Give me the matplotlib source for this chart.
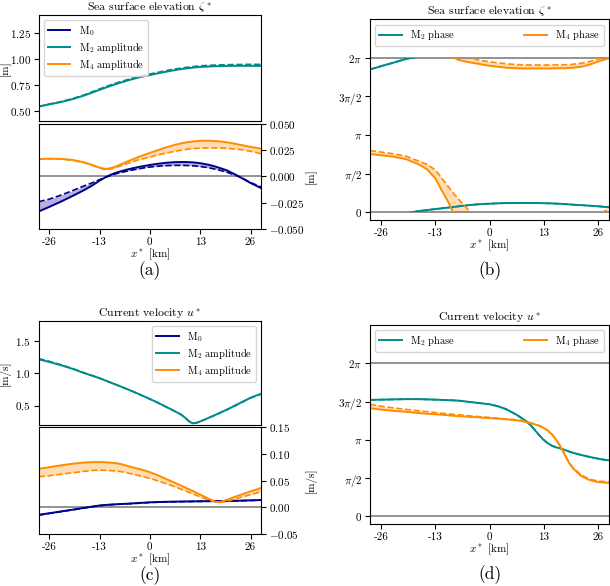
import numpy as np
import matplotlib.pyplot as plt
from matplotlib.lines import Line2D
from matplotlib.patches import Rectangle

plt.rcParams['font.family'] = 'cmr10'
plt.rcParams['mathtext.fontset'] = 'cm'
plt.rcParams['axes.formatter.use_mathtext'] = True
plt.rcParams['font.size'] = 8
plt.rcParams['xtick.major.pad'] = 2.5
plt.rcParams['ytick.major.pad'] = 2

# along-channel position [km]
x = [-28.7, -26, -23, -20, -17, -15, -13, -11.5, -10, -8.8, -7.5, -6, -4.5, -3, -1.5,
     0, 2, 4, 6.5, 8, 9, 10, 11, 12, 13, 14, 15, 16, 17, 18, 19, 20, 22, 24, 26, 27.3, 28.7]

# (a) sea surface elevation, amplitudes [m]
zeta_m2 = [0.538, 0.560, 0.582, 0.610, 0.645, 0.672, 0.700, 0.720, 0.740, 0.755, 0.770, 0.787, 0.803, 0.818, 0.830,
           0.842, 0.858, 0.873, 0.890, 0.899, 0.904, 0.909, 0.913, 0.917, 0.920, 0.922, 0.924, 0.926, 0.927, 0.928, 0.929,
           0.930, 0.931, 0.931, 0.931, 0.930, 0.930]
zeta_m2_ref = [0.540, 0.563, 0.586, 0.615, 0.651, 0.679, 0.708, 0.729, 0.749, 0.764, 0.779, 0.796, 0.812, 0.827, 0.840,
               0.852, 0.868, 0.883, 0.900, 0.909, 0.914, 0.919, 0.923, 0.927, 0.930, 0.933, 0.935, 0.937, 0.938, 0.940, 0.941,
               0.942, 0.943, 0.944, 0.945, 0.945, 0.945]
zeta_m4 = [0.0165, 0.0170, 0.0168, 0.0158, 0.0135, 0.0112, 0.0085, 0.0072, 0.0080, 0.0095, 0.0115, 0.0140, 0.0162, 0.0185, 0.0205,
           0.0225, 0.0250, 0.0275, 0.0302, 0.0315, 0.0322, 0.0328, 0.0333, 0.0337, 0.0340, 0.0341, 0.0341, 0.0340, 0.0337, 0.0334, 0.0330,
           0.0325, 0.0312, 0.0297, 0.0282, 0.0274, 0.0266]
zeta_m4_ref = [0.0165, 0.0168, 0.0165, 0.0155, 0.0132, 0.0108, 0.0080, 0.0066, 0.0072, 0.0085, 0.0102, 0.0122, 0.0140, 0.0158, 0.0172,
               0.0186, 0.0205, 0.0222, 0.0240, 0.0250, 0.0256, 0.0261, 0.0265, 0.0268, 0.0270, 0.0271, 0.0272, 0.0272, 0.0272, 0.0271, 0.0270,
               0.0268, 0.0262, 0.0254, 0.0240, 0.0230, 0.0216]
zeta_m0 = [-0.0333, -0.0290, -0.0240, -0.0186, -0.0130, -0.0088, -0.0040, -0.0008, 0.0018, 0.0035, 0.0050, 0.0065, 0.0078, 0.0090, 0.0100,
           0.0110, 0.0121, 0.0130, 0.0137, 0.0138, 0.0138, 0.0137, 0.0135, 0.0131, 0.0127, 0.0120, 0.0113, 0.0104, 0.0094, 0.0082, 0.0070,
           0.0057, 0.0020, -0.0020, -0.0062, -0.0085, -0.0110]
zeta_m0_ref = [-0.0240, -0.0216, -0.0178, -0.0135, -0.0090, -0.0062, -0.0030, -0.0008, 0.0012, 0.0026, 0.0038, 0.0050, 0.0062, 0.0072, 0.0082,
               0.0090, 0.0098, 0.0103, 0.0106, 0.0106, 0.0105, 0.0104, 0.0102, 0.0099, 0.0095, 0.0090, 0.0084, 0.0077, 0.0069, 0.0060, 0.0050,
               0.0039, 0.0014, -0.0018, -0.0057, -0.0078, -0.0100]

# (b) sea surface elevation, phases [rad] (unwrapped)
zeta_m2_ph = [-0.47, -0.335, -0.19, -0.04, 0.05, 0.09, 0.13, 0.16, 0.19, 0.21, 0.24, 0.27, 0.30, 0.32, 0.34,
              0.35, 0.365, 0.375, 0.38, 0.38, 0.38, 0.378, 0.376, 0.374, 0.37, 0.365, 0.36, 0.352, 0.345, 0.335, 0.322,
              0.31, 0.29, 0.268, 0.245, 0.225, 0.20]
zeta_m4_ph = [2.37, 2.32, 2.26, 2.16, 1.95, 1.75, 1.38, 0.90, 0.45, 0.03, -0.08, -0.14, -0.19, -0.23, -0.28,
              -0.32, -0.36, -0.40, -0.42, -0.43, -0.43, -0.43, -0.43, -0.43, -0.43, -0.43, -0.43, -0.42, -0.42, -0.42, -0.41,
              -0.40, -0.36, -0.28, -0.15, -0.08, -0.02]
zeta_m4_ph_ref = [2.51, 2.45, 2.38, 2.28, 2.08, 1.95, 1.72, 1.40, 1.07, 0.80, 0.55, 0.26, 0.00, -0.07, -0.12,
                  -0.16, -0.20, -0.24, -0.27, -0.28, -0.285, -0.29, -0.29, -0.29, -0.29, -0.29, -0.29, -0.285, -0.28, -0.28, -0.27,
                  -0.26, -0.22, -0.15, -0.05, 0.02, 0.12]

# (c) current velocity, amplitudes [m/s]
u_m2 = [1.210, 1.170, 1.120, 1.065, 1.000, 0.960, 0.920, 0.885, 0.850, 0.822, 0.792, 0.755, 0.718, 0.680, 0.640,
        0.600, 0.545, 0.485, 0.410, 0.362, 0.318, 0.262, 0.225, 0.232, 0.255, 0.280, 0.306, 0.332, 0.358, 0.385, 0.412,
        0.440, 0.500, 0.560, 0.620, 0.650, 0.680]
u_m2_ref = [1.222, 1.180, 1.128, 1.070, 1.004, 0.963, 0.922, 0.886, 0.850, 0.822, 0.792, 0.755, 0.718, 0.680, 0.640,
            0.600, 0.545, 0.485, 0.410, 0.362, 0.318, 0.262, 0.227, 0.234, 0.255, 0.279, 0.304, 0.330, 0.356, 0.383, 0.410,
            0.437, 0.496, 0.555, 0.614, 0.644, 0.673]
u_m4 = [0.0720, 0.0750, 0.0785, 0.0815, 0.0838, 0.0845, 0.0847, 0.0843, 0.0835, 0.0825, 0.0810, 0.0778, 0.0750, 0.0720, 0.0690,
        0.0657, 0.0600, 0.0535, 0.0455, 0.0405, 0.0372, 0.0340, 0.0305, 0.0270, 0.0235, 0.0200, 0.0165, 0.0130, 0.0100, 0.0095, 0.0116,
        0.0140, 0.0195, 0.0245, 0.0296, 0.0325, 0.0360]
u_m4_ref = [0.0570, 0.0590, 0.0618, 0.0645, 0.0672, 0.0688, 0.0695, 0.0692, 0.0686, 0.0678, 0.0668, 0.0645, 0.0620, 0.0595, 0.0568,
            0.0540, 0.0495, 0.0445, 0.0380, 0.0338, 0.0310, 0.0282, 0.0252, 0.0222, 0.0192, 0.0165, 0.0138, 0.0112, 0.0093, 0.0088, 0.0097,
            0.0112, 0.0155, 0.0195, 0.0233, 0.0260, 0.0290]
u_m0 = [-0.0146, -0.0116, -0.0082, -0.0049, -0.0015, 0.0008, 0.0030, 0.0040, 0.0048, 0.0053, 0.0058, 0.0063, 0.0070, 0.0076, 0.0083,
        0.0090, 0.0095, 0.0099, 0.0103, 0.0105, 0.0106, 0.0107, 0.0108, 0.0109, 0.0110, 0.0111, 0.0112, 0.0112, 0.0113, 0.0114, 0.0114,
        0.0115, 0.0119, 0.0123, 0.0127, 0.0130, 0.0133]
u_m0_ref = [-0.0150, -0.0120, -0.0086, -0.0052, -0.0018, 0.0005, 0.0027, 0.0037, 0.0045, 0.0050, 0.0055, 0.0060, 0.0067, 0.0073, 0.0080,
            0.0087, 0.0092, 0.0096, 0.0100, 0.0102, 0.0103, 0.0104, 0.0105, 0.0106, 0.0107, 0.0108, 0.0109, 0.0109, 0.0110, 0.0111, 0.0111,
            0.0112, 0.0116, 0.0120, 0.0124, 0.0127, 0.0130]

# (d) current velocity, phases [rad]
u_m2_ph = [4.78, 4.79, 4.80, 4.81, 4.81, 4.80, 4.79, 4.78, 4.77, 4.76, 4.75, 4.72, 4.69, 4.66, 4.63,
           4.60, 4.52, 4.40, 4.17, 4.00, 3.88, 3.72, 3.52, 3.32, 3.14, 3.00, 2.90, 2.83, 2.79, 2.73, 2.67,
           2.61, 2.52, 2.44, 2.37, 2.33, 2.30]
u_m4_ph = [4.44, 4.38, 4.33, 4.29, 4.24, 4.21, 4.19, 4.17, 4.15, 4.13, 4.11, 4.10, 4.08, 4.07, 4.05,
           4.03, 4.01, 3.98, 3.94, 3.90, 3.86, 3.82, 3.77, 3.71, 3.63, 3.52, 3.36, 3.14, 2.88, 2.55, 2.22,
           1.98, 1.66, 1.49, 1.41, 1.39, 1.37]
u_m4_ph_ref = [4.60, 4.52, 4.45, 4.39, 4.33, 4.30, 4.26, 4.23, 4.21, 4.19, 4.17, 4.15, 4.12, 4.10, 4.08,
               4.06, 4.03, 4.00, 3.96, 3.92, 3.88, 3.84, 3.78, 3.72, 3.64, 3.53, 3.37, 3.15, 2.89, 2.57, 2.25,
               2.01, 1.70, 1.53, 1.45, 1.43, 1.42]

c_m0 = 'darkblue'
c_m2 = 'darkcyan'
c_m4 = 'darkorange'
xticks = [-26, -13, 0, 13, 26]
xlim = (-28.7, 28.7)
W, H = 610, 586


def box(l, t, r, b):
    # pixel box -> figure fraction
    return [l / W, 1 - b / H, (r - l) / W, (b - t) / H]


def pair(ax, a, b, color):
    ax.plot(x, a, color=color, lw=1.4)
    ax.plot(x, b, color=color, lw=1.2, ls='--')
    ax.fill_between(x, a, b, color=color, alpha=0.3, lw=0)


def pair_phase(ax, a, b, color):
    # draw mod 2pi by clipping shifted copies to [0, 2pi]
    rect = Rectangle((xlim[0], 0), xlim[1] - xlim[0], 2 * np.pi, transform=ax.transData)
    a = np.array(a)
    b = np.array(b)
    for k in (-1, 0, 1):
        s = 2 * np.pi * k
        arts = ax.plot(x, a + s, color=color, lw=1.4)
        arts += ax.plot(x, b + s, color=color, lw=1.2, ls='--')
        arts.append(ax.fill_between(x, a + s, b + s, color=color, alpha=0.3, lw=0))
        for art in arts:
            art.set_clip_path(rect)


def leg(ax, handles, labels, **kw):
    ax.legend(handles, labels, fontsize=7.5, handlelength=2.2, labelspacing=0.3,
              borderpad=0.35, **kw)


def amp_panel(top_box, bot_box, amp2, amp2_ref, m0, m0_ref, amp4, amp4_ref,
              title, unit, ylim_top, yt_top, ylim_bot, yt_bot, leg_loc):
    ax1 = fig.add_axes(box(*top_box))
    pair(ax1, amp2, amp2_ref, c_m2)
    ax1.set_xlim(xlim)
    ax1.set_ylim(ylim_top)
    ax1.set_yticks(yt_top)
    ax1.set_xticks([])
    ax1.set_ylabel(unit)
    ax1.yaxis.set_label_coords(-0.125, 0.5)
    ax1.set_title(title, fontsize=8.5, pad=3)
    handles = [Line2D([], [], color=c_m0, lw=1.4),
               Line2D([], [], color=c_m2, lw=1.4),
               Line2D([], [], color=c_m4, lw=1.4)]
    leg(ax1, handles, ['M$_0$', 'M$_2$ amplitude', 'M$_4$ amplitude'], loc=leg_loc)

    ax2 = fig.add_axes(box(*bot_box))
    ax2.axhline(0, color='gray', lw=1.2)
    pair(ax2, m0, m0_ref, c_m0)
    pair(ax2, amp4, amp4_ref, c_m4)
    ax2.set_xlim(xlim)
    ax2.set_ylim(ylim_bot)
    ax2.set_yticks(yt_bot)
    ax2.yaxis.tick_right()
    ax2.yaxis.set_label_position('right')
    ax2.set_ylabel(unit)
    ax2.yaxis.set_label_coords(1.2, 0.5)
    ax2.set_xticks(xticks)
    ax2.set_xticklabels([str(v) for v in xticks])
    ax2.set_xlabel('$x^*$ [km]', labelpad=0)


def phase_panel(pbox, ph2, ph4, ph4_ref, title):
    ax = fig.add_axes(box(*pbox))
    ax.axhline(0, color='gray', lw=1.2)
    ax.axhline(2 * np.pi, color='gray', lw=1.2)
    pair_phase(ax, ph2, ph2, c_m2)
    pair_phase(ax, ph4, ph4_ref, c_m4)
    ax.set_xlim(xlim)
    ax.set_ylim(-0.1 * np.pi, 2.5 * np.pi)
    ax.set_yticks([0, np.pi / 2, np.pi, 1.5 * np.pi, 2 * np.pi])
    ax.set_yticklabels(['$0$', r'$\pi/2$', r'$\pi$', r'$3\pi/2$', r'$2\pi$'])
    ax.set_xticks(xticks)
    ax.set_xticklabels([str(v) for v in xticks])
    ax.set_xlabel('$x^*$ [km]', labelpad=0)
    ax.set_title(title, fontsize=8.5, pad=3)
    handles = [Line2D([], [], color=c_m2, lw=1.4), Line2D([], [], color=c_m4, lw=1.4)]
    leg(ax, handles, ['M$_2$ phase', 'M$_4$ phase'], loc='upper left', ncol=2,
        mode='expand', bbox_to_anchor=(0, 0, 1, 1))


fig = plt.figure(figsize=(6.1, 5.86), dpi=100)

amp_panel((38.7, 15, 261, 121), (38.7, 124, 261, 229),
          zeta_m2, zeta_m2_ref, zeta_m0, zeta_m0_ref, zeta_m4, zeta_m4_ref,
          r'Sea surface elevation $\zeta^*$', '[m]',
          (0.40, 1.42), [0.5, 0.75, 1.0, 1.25],
          (-0.05, 0.05), [-0.05, -0.025, 0, 0.025, 0.05], 'upper left')

phase_panel((370, 19.3, 609, 220), zeta_m2_ph, zeta_m4_ph, zeta_m4_ph_ref,
            r'Sea surface elevation $\zeta^*$')

amp_panel((38.7, 321, 261, 425), (38.7, 427.3, 261, 533.7),
          u_m2, u_m2_ref, u_m0, u_m0_ref, u_m4, u_m4_ref,
          r'Current velocity $u^*$', '[m/s]',
          (0.2, 1.8), [0.5, 1.0, 1.5],
          (-0.05, 0.15), [-0.05, 0, 0.05, 0.1, 0.15], 'upper right')

phase_panel((370, 325, 609, 524), u_m2_ph, u_m4_ph, u_m4_ph_ref,
            r'Current velocity $u^*$')

for lab, px, py in [('(a)', 150, 271), ('(b)', 490, 271), ('(c)', 150, 576), ('(d)', 490, 575)]:
    fig.text(px / W, 1 - py / H, lab, ha='center', va='center', fontsize=12.5)

fig.savefig('out.png', dpi=100)
